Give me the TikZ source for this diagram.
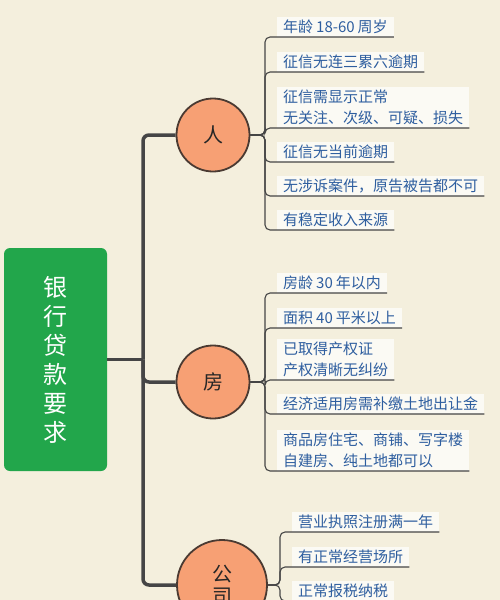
\documentclass[tikz,border=0pt]{standalone}
\usepackage{fontspec}
\setmainfont{Noto Sans CJK SC}
\usepackage{xcolor}
\definecolor{PaperCream}{HTML}{F4EFDD}
\definecolor{RootGreen}{HTML}{22A64B}
\definecolor{TopicSalmon}{HTML}{F7A074}
\definecolor{TopicEdge}{HTML}{4A3A32}
\definecolor{LeafBlue}{HTML}{2E5E9F}
\definecolor{BranchGrey}{HTML}{454545}
\usetikzlibrary{positioning, calc}
\tikzstyle{root} = [rectangle, fill=RootGreen, text=white, minimum width=103pt, minimum height=223pt, rounded corners=6pt, align=center, font=\fontsize{24}{29}\selectfont]
\tikzstyle{topic} = [circle, draw=TopicEdge, fill=TopicSalmon, line width=1.8pt, minimum size=73pt, inner sep=0pt, text=black!85, align=center, font=\fontsize{20}{22}\selectfont]
\tikzstyle{leaf} = [rectangle, anchor=south west, fill=white, fill opacity=0.7, text opacity=1, text=LeafBlue, inner xsep=6pt, inner ysep=3pt, align=left, font=\fontsize{15}{21}\selectfont]
\tikzstyle{trunk} = [BranchGrey, line width=3.5pt, rounded corners=6pt]
\tikzstyle{twig} = [BranchGrey, line width=1.1pt, rounded corners=5pt]
\newcommand{\numgap}{\hspace{3pt}}

\begin{document}
\begin{tikzpicture}[x=1pt, y=-1pt]
        % Paper
        \fill[PaperCream] (0,0) rectangle (500,600);
        \useasboundingbox (0,0) rectangle (500,600);

        % Root and topics
        \node [root] (root) at (55.5,359.5) {银\\行\\贷\\款\\要\\求};
        \coordinate (fork) at (143,359.5);
        \node [topic] (ren) at (213,135) {人};
        \node [topic] (fang) at (213,382) {房};
        \node [topic, minimum size=90pt] (gongsi) at (222,585) {公\\司};

        \draw [trunk] (root.east) -- (fork);
        \draw [trunk] (fork) |- (ren.west);
        \draw [trunk] (fork) |- (fang.west);
        \draw [trunk] (fork) |- (gongsi.west);

        % Person
        \coordinate (hubR) at (265,135);
        \node [leaf] (r1) at (277,37) {年龄\numgap 18-60\numgap 周岁};
        \node [leaf] (r2) at (277,72) {征信无连三累六逾期};
        \node [leaf] (r3) at (277,128) {征信需显示正常\\无关注、次级、可疑、损失};
        \node [leaf] (r4) at (277,162) {征信无当前逾期};
        \node [leaf] (r5) at (277,196) {无涉诉案件，原告被告都不可};
        \node [leaf] (r6) at (277,230) {有稳定收入来源};
        \foreach \leafname in {r1,r2,r3,r4,r5,r6}
            \draw [twig] (ren.east) -- (hubR) |- (\leafname.south west) -- (\leafname.south east);

        % House
        \coordinate (hubF) at (265,382);
        \node [leaf] (f1) at (277,293) {房龄\numgap 30\numgap 年以内};
        \node [leaf] (f2) at (277,328) {面积\numgap 40\numgap 平米以上};
        \node [leaf] (f3) at (277,380) {已取得产权证\\产权清晰无纠纷};
        \node [leaf] (f4) at (277,414) {经济适用房需补缴土地出让金};
        \node [leaf] (f5) at (277,471) {商品房住宅、商铺、写字楼\\自建房、纯土地都可以};
        \foreach \leafname in {f1,f2,f3,f4,f5}
            \draw [twig] (fang.east) -- (hubF) |- (\leafname.south west) -- (\leafname.south east);

        % Company
        \coordinate (hubG) at (280,585);
        \node [leaf] (g1) at (292,532) {营业执照注册满一年};
        \node [leaf] (g2) at (292,567) {有正常经营场所};
        \node [leaf] (g3) at (292,601) {正常报税纳税};
        \foreach \leafname in {g1,g2,g3}
            \draw [twig] (gongsi.east) -- (hubG) |- (\leafname.south west) -- (\leafname.south east);
\end{tikzpicture}
\end{document}
